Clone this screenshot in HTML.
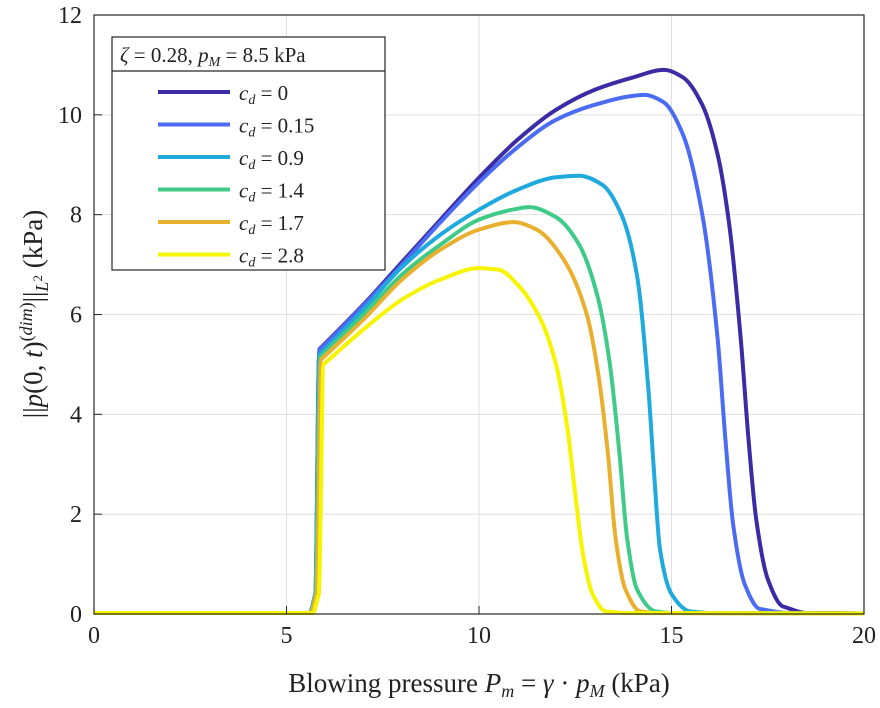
<!DOCTYPE html>
<html><head><meta charset="utf-8"><style>
body{margin:0;background:#fff}
svg text{font-family:"Liberation Serif",serif;fill:#222}
</style></head><body>
<svg id="chart" width="880" height="703" xmlns="http://www.w3.org/2000/svg">
<g id="grid"></g>
<g id="series"></g>
<rect x="94" y="15" width="770" height="599" fill="none" stroke="#262626" stroke-width="1.2"/>
<g id="ticks"></g>
<text x="479" y="692" font-size="27" text-anchor="middle">Blowing pressure <tspan font-style="italic">P</tspan><tspan font-size="18" dy="5" font-style="italic">m</tspan><tspan dy="-5"> = </tspan><tspan font-style="italic">γ</tspan> · <tspan font-style="italic">p</tspan><tspan font-size="18" dy="5" font-style="italic">M</tspan><tspan dy="-5"> (kPa)</tspan></text>
<text transform="translate(42,314) rotate(-90)" font-size="27" text-anchor="middle">||<tspan font-style="italic">p</tspan>(0, <tspan font-style="italic">t</tspan>)<tspan font-size="18" dy="-10">(<tspan font-style="italic">dim</tspan>)</tspan><tspan dy="10">||</tspan><tspan font-size="18" dy="6" font-style="italic">L</tspan><tspan font-size="13" dy="-6">2</tspan><tspan dy="0"> (kPa)</tspan></text>
<g id="legend">
<rect x="112" y="37" width="273" height="233" fill="#fff" stroke="#262626" stroke-width="1.2"/>
<line x1="112" y1="71" x2="385" y2="71" stroke="#262626" stroke-width="1.2"/>
<text x="120" y="62" font-size="21"><tspan font-style="italic">ζ</tspan> = 0.28, <tspan font-style="italic">p</tspan><tspan font-size="14" dy="4" font-style="italic">M</tspan><tspan dy="-4"> = 8.5 kPa</tspan></text>
</g>
</svg>
<script>
const xTicks=[0,5,10,15,20];
const yTicks=[0,2,4,6,8,10,12];
const labels=["0","0.15","0.9","1.4","1.7","2.8"];
const colors=["#3b2ca6","#4b6cf2","#1fa9dd","#3fcb87","#e8b02e","#f7f400"];
const s0=[[0,0.02],[5.6,0.02],[5.75,0.4],[5.85,5.3],[7,6.2],[8,7.05],[9,7.9],[10,8.74],[11,9.5],[12,10.1],[13,10.5],[14,10.75],[14.8,10.9],[15.3,10.75],[15.8,10.2],[16.2,9.2],[16.5,7.8],[16.8,5.5],[17.0,3.5],[17.2,1.9],[17.5,0.7],[17.9,0.15],[18.5,0.02],[20,0.01]];
const s1=[[0,0.02],[5.6,0.02],[5.75,0.4],[5.85,5.28],[7,6.18],[8,7.0],[9,7.85],[10,8.65],[11,9.35],[12,9.9],[13,10.2],[14,10.38],[14.3,10.4],[14.8,10.25],[15.3,9.6],[15.8,8.0],[16.2,5.5],[16.4,3.5],[16.6,1.8],[16.9,0.6],[17.3,0.1],[18,0.02],[20,0.01]];
const s2=[[0,0.02],[5.6,0.02],[5.75,0.4],[5.86,5.2],[7,6.1],[8,6.95],[9,7.6],[10,8.1],[11,8.5],[12,8.75],[12.6,8.78],[13.2,8.6],[13.7,8.0],[14.1,6.8],[14.4,4.5],[14.55,2.8],[14.7,1.3],[15,0.4],[15.5,0.05],[16,0.02],[20,0.01]];
const s3=[[0,0.02],[5.6,0.02],[5.76,0.4],[5.87,5.15],[7,6.0],[8,6.8],[9,7.4],[10,7.9],[11,8.12],[11.3,8.15],[12,7.95],[12.6,7.4],[13.1,6.3],[13.4,5.0],[13.65,3.2],[13.85,1.5],[14.1,0.5],[14.6,0.05],[15,0.02],[20,0.01]];
const s4=[[0,0.02],[5.62,0.02],[5.78,0.4],[5.9,5.1],[7,5.9],[8,6.7],[9,7.3],[10,7.7],[10.9,7.85],[11.5,7.7],[12.2,7.1],[12.8,6.0],[13.1,4.8],[13.35,3.2],[13.55,1.5],[13.8,0.5],[14.2,0.05],[14.6,0.02],[20,0.01]];
const s5=[[0,0.02],[5.68,0.02],[5.84,0.4],[5.96,5.0],[7,5.7],[8,6.3],[9,6.7],[10,6.93],[10.5,6.9],[11,6.6],[11.6,5.9],[12,5.0],[12.3,3.7],[12.5,2.4],[12.7,1.2],[12.95,0.4],[13.3,0.05],[13.8,0.02],[20,0.01]];
const seriesData=[s0,s1,s2,s3,s4,s5];
const X=v=>94+v*38.5, Y=v=>614-v*(599/12);
const NS="http://www.w3.org/2000/svg";
const grid=document.getElementById('grid'),ticks=document.getElementById('ticks'),ser=document.getElementById('series'),leg=document.getElementById('legend');
function mk(t,a,p){const e=document.createElementNS(NS,t);for(const k in a)e.setAttribute(k,a[k]);p.appendChild(e);return e;}
function smoothPath(d){
 const n=d.length,xs=d.map(q=>X(q[0])),ys=d.map(q=>Y(q[1]));
 const dx=[],m=[],t=new Array(n);
 for(let i=0;i<n-1;i++){dx[i]=xs[i+1]-xs[i];m[i]=(ys[i+1]-ys[i])/dx[i];}
 t[0]=m[0];t[n-1]=m[n-2];
 for(let i=1;i<n-1;i++){
  const a=m[i-1],b=m[i];
  if(a*b<=0){t[i]=0;continue;}
  const r=Math.abs(a)/Math.abs(b);
  if(r>6||r<1/6){t[i]=Math.abs(a)<Math.abs(b)?a:b;continue;}
  t[i]=3*(dx[i-1]+dx[i])/((2*dx[i]+dx[i-1])/a+(dx[i]+2*dx[i-1])/b);
 }
 let s='M'+xs[0]+','+ys[0];
 for(let i=0;i<n-1;i++){const h=dx[i]/3;s+=' C'+(xs[i]+h)+','+(ys[i]+t[i]*h)+' '+(xs[i+1]-h)+','+(ys[i+1]-t[i+1]*h)+' '+xs[i+1]+','+ys[i+1];}
 return s;
}
xTicks.forEach(v=>{
 const g=mk('line',{x1:X(v),x2:X(v),y1:15,y2:614,stroke:'#dfdfdf','stroke-width':1},grid);
 
 
 const tk=mk('line',{x1:X(v),x2:X(v),y1:614,y2:606,stroke:'#262626'},ticks);
 
 
 const t=mk('text',{x:X(v),y:643,'font-size':24,'text-anchor':'middle'},ticks);t.textContent=v;
 
 
});
yTicks.forEach(v=>{
 const g=mk('line',{x1:94,x2:864,y1:Y(v),y2:Y(v),stroke:'#dfdfdf','stroke-width':1},grid);
 
 
 const tk=mk('line',{x1:94,x2:102,y1:Y(v),y2:Y(v),stroke:'#262626'},ticks);
 
 
 const t=mk('text',{x:82,y:Y(v)+8,'font-size':24,'text-anchor':'end'},ticks);t.textContent=v;
 
 
});
seriesData.forEach((d,i)=>{
 const p=mk('path',{d:smoothPath(d),fill:'none',stroke:colors[i],'stroke-width':4,'stroke-linejoin':'round'},ser);
 
 
 const y=92+i*32.5;
 const l=mk('line',{x1:158,x2:230,y1:y,y2:y,stroke:colors[i],'stroke-width':4},leg);
 
 
 const t=mk('text',{x:239,y:y+8,'font-size':21},leg);
 t.innerHTML='<tspan font-style="italic">c</tspan><tspan font-size="14" dy="4" font-style="italic">d</tspan><tspan dy="-4"> = '+labels[i]+'</tspan>';
 
 
});
</script>
</body></html>
